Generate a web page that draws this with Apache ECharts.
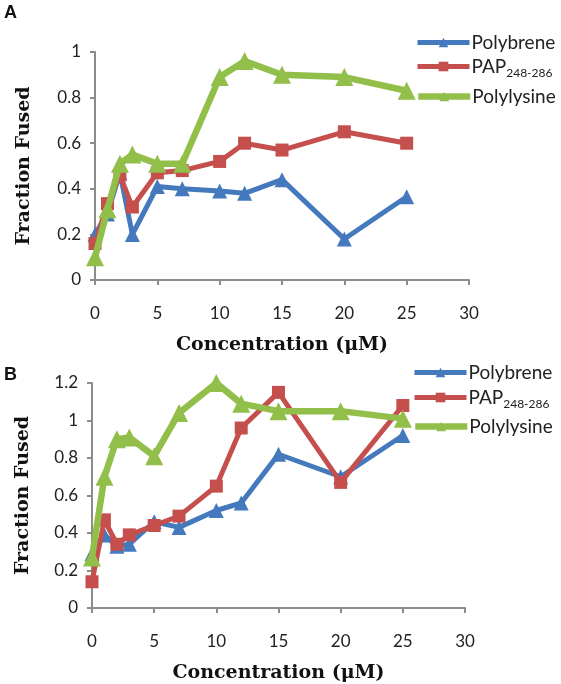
<!DOCTYPE html>
<html>
<head>
<meta charset="utf-8">
<script src="https://cdn.jsdelivr.net/npm/echarts@6/dist/echarts.min.js"></script>
<style>
html,body{margin:0;padding:0;background:#fff;}
#c{width:561px;height:684px;}
</style>
</head>
<body>
<div id="c"></div>
<script>
// ---- data ----
const concentrations = [0, 1, 2, 3, 5, 7, 10, 12, 15, 20, 25];
const seriesNames = ['Polybrene', 'PAP', 'Polylysine'];
const pap_subscript = '248-286';

// Panel A
const polybreneA = [0.20, 0.29, 0.47, 0.20, 0.41, 0.40, 0.39, 0.38, 0.44, 0.18, 0.365];
const papA       = [0.16, 0.335, 0.46, 0.32, 0.47, 0.48, 0.52, 0.60, 0.57, 0.65, 0.60];
const polylysineA= [0.10, 0.31, 0.51, 0.55, 0.51, 0.51, 0.89, 0.96, 0.90, 0.89, 0.83];

// Panel B
const polybreneB = [0.29, 0.39, 0.33, 0.34, 0.46, 0.43, 0.52, 0.56, 0.82, 0.70, 0.92];
const papB       = [0.14, 0.47, 0.34, 0.39, 0.44, 0.49, 0.65, 0.96, 1.15, 0.67, 1.08];
const polylysineB= [0.27, 0.70, 0.90, 0.91, 0.81, 1.04, 1.20, 1.09, 1.05, 1.05, 1.01];

const yMaxA = 1, yMaxB = 1.2, yStep = 0.2;
const xMax = 30, xStep = 5;

// ---- styling ----
const colors = ['#4479BE', '#C44F4C', '#92BE4A'];
const lineWidths = [5, 5, 6.5];
const symbols = ['triangle', 'rect', 'triangle'];
const symbolSizes = [15, 13, 18];
const axisGray = '#8c8c8c';
const tickFont = 'Lato';
const titleFont = 'DejaVu Serif';

function zip(ys){ return concentrations.map((x,i)=>[x, ys[i]]); }

function mkSeries(name, idx, ys, axisIdx){
  return {
    name: name, type: 'line',
    xAxisIndex: axisIdx, yAxisIndex: axisIdx,
    data: zip(ys),
    symbol: symbols[idx], symbolSize: symbolSizes[idx],
    lineStyle: {color: colors[idx], width: lineWidths[idx]},
    itemStyle: {color: colors[idx]},
    z: 2 + idx,
    animation: false
  };
}

function xAxis(grid){
  return {
    type: 'value', gridIndex: grid, min: 0, max: xMax, interval: xStep,
    axisLine: {lineStyle: {color: axisGray, width: 2}},
    axisTick: {show: true, length: 5, lineStyle: {color: axisGray, width: 2}},
    axisLabel: {margin: 25, color: '#222', fontFamily: tickFont, fontSize: 17},
    splitLine: {show: false},
    name: 'Concentration (\u03bcM)', nameLocation: 'middle', nameGap: 56,
    nameTextStyle: {fontFamily: titleFont, fontWeight: 'bold', fontSize: 19, color: '#111'}
  };
}
function yAxis(grid, max, gap){
  return {
    type: 'value', gridIndex: grid, min: 0, max: max, interval: yStep,
    axisLine: {show: true, lineStyle: {color: axisGray, width: 2}},
    axisTick: {show: true, length: 5, lineStyle: {color: axisGray, width: 2}},
    axisLabel: {margin: 14, color: '#222', fontFamily: tickFont, fontSize: 17},
    splitLine: {show: false},
    name: 'Fraction Fused', nameLocation: 'middle', nameGap: gap,
    nameTextStyle: {fontFamily: titleFont, fontWeight: 'bold', fontSize: 19, color: '#111'}
  };
}

const rich = {
  m: {fontFamily: tickFont, fontSize: 19, color: '#222'},
  s: {fontFamily: tickFont, fontSize: 12, color: '#222', padding: [13, 0, 0, 0]}
};
function mkLegend(name, left, top){
  return {
    data: [name], left: left, top: top, orient: 'vertical',
    itemWidth: 52, itemHeight: 12, itemGap: 0, padding: 0,
    selectedMode: false,
    lineStyle: {width: 'inherit'},
    formatter: n => n === 'PAP' ? '{m|PAP}{s|' + pap_subscript + '}' : '{m|' + n + '}',
    textStyle: {rich: rich, padding: [0,0,0,-3]}
  };
}

const chart = echarts.init(document.getElementById('c'));
chart.setOption({
  animation: false,
  backgroundColor: '#fff',
  grid: [
    {left: 95, width: 374, top: 52, height: 228},
    {left: 92, width: 373, top: 383, height: 228}
  ],
  xAxis: [xAxis(0), xAxis(1)],
  yAxis: [yAxis(0, yMaxA, 61), yAxis(1, yMaxB, 59)],
  legend: [
    mkLegend(seriesNames[0], 415, 33),
    mkLegend(seriesNames[1], 415, 57),
    mkLegend(seriesNames[2], 415, 87),
    mkLegend(seriesNames[0], 412, 363),
    mkLegend(seriesNames[1], 412, 388),
    mkLegend(seriesNames[2], 412, 417)
  ],
  graphic: [
    {type: 'text', left: 4, top: 4, style: {text: 'A', font: 'bold 18px "Liberation Sans"', fill: '#111'}},
    {type: 'text', left: 4, top: 366, style: {text: 'B', font: 'bold 18px "Liberation Sans"', fill: '#111'}}
  ],
  series: [
    mkSeries(seriesNames[0], 0, polybreneA, 0),
    mkSeries(seriesNames[1], 1, papA, 0),
    mkSeries(seriesNames[2], 2, polylysineA, 0),
    mkSeries(seriesNames[0], 0, polybreneB, 1),
    mkSeries(seriesNames[1], 1, papB, 1),
    mkSeries(seriesNames[2], 2, polylysineB, 1)
  ]
});
</script>
</body>
</html>
